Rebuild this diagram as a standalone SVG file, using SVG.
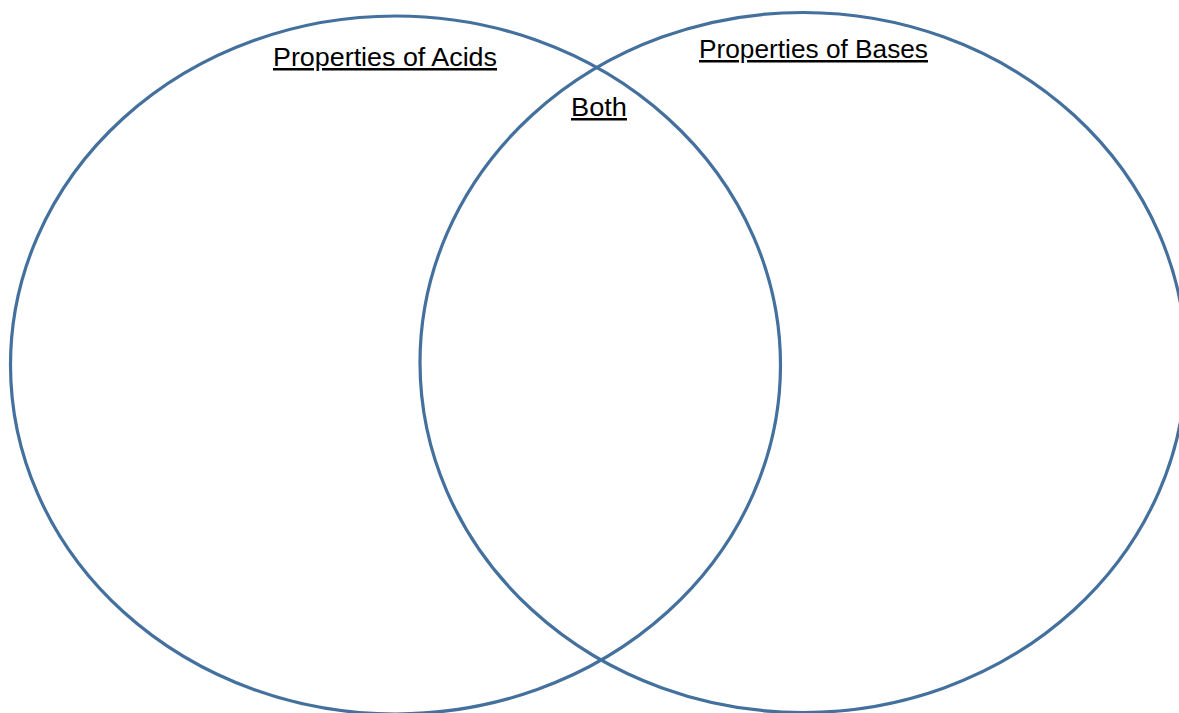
<svg xmlns="http://www.w3.org/2000/svg" width="1179" height="713" viewBox="0 0 1179 713">
<style>
.c{fill:none;stroke:#44709D;stroke-width:3.2}
.t{font-family:"Liberation Sans",Arial,sans-serif;font-size:25px;fill:#000;text-decoration:underline}
</style>
<rect width="1179" height="713" fill="#fff"/>
<g id="acids">
<ellipse class="c" cx="395.5" cy="365" rx="385" ry="349"/>
<text class="t" x="273" y="66" textLength="224" lengthAdjust="spacingAndGlyphs">Properties of Acids</text>
</g>
<g id="bases">
<ellipse class="c" cx="803" cy="362.5" rx="383" ry="350"/>
<text class="t" x="699" y="58" textLength="229" lengthAdjust="spacingAndGlyphs">Properties of Bases</text>
</g>
<g id="both">
<text class="t" x="571" y="116" textLength="56" lengthAdjust="spacingAndGlyphs">Both</text>
</g>
<g id="connectors"/>
</svg>
